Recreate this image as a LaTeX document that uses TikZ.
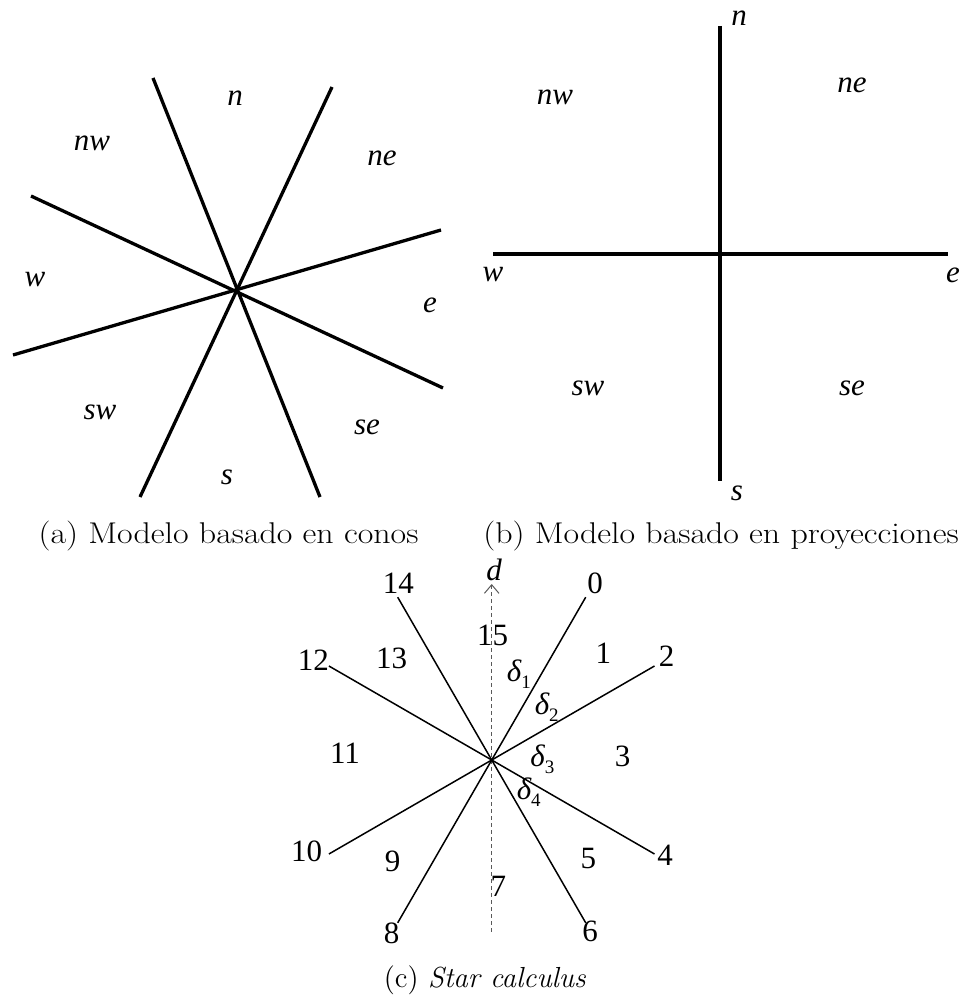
\documentclass[tikz,border=0pt]{standalone}
\usepackage{fontspec}
\newfontfamily\tms{Liberation Serif}
\usetikzlibrary{arrows.meta}
\tikzset{
  thickray/.style={line width=1.65pt},
  thinray/.style={line width=0.75pt},
  dirlab/.style={inner sep=0pt, font=\tms\itshape\fontsize{15.5}{18}\selectfont},
  numlab/.style={inner sep=0pt, font=\tms\fontsize{15.5}{18}\selectfont},
  caplab/.style={inner sep=0pt, anchor=base, font=\fontsize{15}{18}\selectfont},
  axisd/.style={line width=0.5pt, draw=black!65, dash pattern=on 2pt off 1.5pt,
     -{Straight Barb[length=4.3pt,width=7.3pt,line width=0.5pt]}}
}
\newcommand{\dlt}[1]{{\tms\itshape\fontsize{15.5}{18}\selectfont δ}\raisebox{-3.5pt}{\tms\fontsize{9.5}{10}\selectfont #1}}
\begin{document}
\begin{tikzpicture}[x=0.5pt,y=-0.5pt]
\useasboundingbox (0,0) rectangle (965,999);
% ---------- (a) cones ----------
\coordinate (a1s) at (153,78);  \coordinate (a1e) at (320,497);
\coordinate (a2s) at (332,87);  \coordinate (a2e) at (140,497);
\coordinate (a3s) at (31,196);  \coordinate (a3e) at (443,388);
\coordinate (a4s) at (441,230); \coordinate (a4e) at (13,355);
\draw[thickray] (a1s) -- (a1e);
\draw[thickray] (a2s) -- (a2e);
\draw[thickray] (a3s) -- (a3e);
\draw[thickray] (a4s) -- (a4e);
\node[dirlab] (an)  at (235,98)  {n};
\node[dirlab] (anw) at (92,143)  {nw};
\node[dirlab] (ane) at (382,158) {ne};
\node[dirlab] (aw)  at (35,280)  {w};
\node[dirlab] (ae)  at (430,305) {e};
\node[dirlab] (asw) at (100,412) {sw};
\node[dirlab] (ase) at (367,427) {se};
\node[dirlab] (as)  at (227,477) {s};
\node[caplab, xscale=1.13] (capa) at (228.5,543) {(a) Modelo basado en conos};
% ---------- (b) projections ----------
\coordinate (bn) at (720,26);  \coordinate (bs) at (720,481);
\coordinate (bw) at (493,254); \coordinate (be) at (948,254);
\draw[thickray] (bn) -- (bs);
\draw[thickray] (bw) -- (be);
\node[dirlab] (bln)  at (739,18)  {n};
\node[dirlab] (blnw) at (555,97)  {nw};
\node[dirlab] (blne) at (852,85)  {ne};
\node[dirlab] (blw)  at (493,275) {w};
\node[dirlab] (ble)  at (953,275) {e};
\node[dirlab] (blsw) at (588,388) {sw};
\node[dirlab] (blse) at (852,388) {se};
\node[dirlab] (bls)  at (737,493) {s};
\node[caplab, xscale=1.13] (capb) at (721,543) {(b) Modelo basado en proyecciones};
% ---------- (c) star calculus ----------
\coordinate (c0)  at (585.7,597.2);
\coordinate (c2)  at (654.5,666);
\coordinate (c4)  at (654.5,854);
\coordinate (c6)  at (585.7,922.8);
\coordinate (c8)  at (397.7,922.8);
\coordinate (c10) at (328.9,854);
\coordinate (c12) at (328.9,666);
\coordinate (c14) at (397.7,597.2);
\coordinate (dbot) at (491.7,931.7);
\coordinate (dtop) at (491.7,584);
\draw[axisd] (dbot) -- (dtop);
\draw[thinray] (c0) -- (c8);
\draw[thinray] (c2) -- (c10);
\draw[thinray] (c4) -- (c12);
\draw[thinray] (c6) -- (c14);
\node[dirlab] (ld) at (494,570) {d};
\node[numlab] (l0)  at (595,583)   {0};
\node[numlab] (l1)  at (603.3,653.3) {1};
\node[numlab] (l2)  at (666.7,656.7) {2};
\node[numlab] (l3)  at (622.7,756.7) {3};
\node[numlab] (l4)  at (665,855)   {4};
\node[numlab] (l5)  at (588.3,858.3) {5};
\node[numlab] (l6)  at (590,931.7) {6};
\node[numlab] (l7)  at (498.3,886.7) {7};
\node[numlab] (l8)  at (391.7,933) {8};
\node[numlab] (l9)  at (392.7,861.7) {9};
\node[numlab] (l10) at (306.7,851.7) {10};
\node[numlab] (l11) at (345,753.3) {11};
\node[numlab] (l12) at (313.3,660) {12};
\node[numlab] (l13) at (391.7,658.3) {13};
\node[numlab] (l14) at (398.3,583.3) {14};
\node[numlab] (l15) at (492.7,635) {15};
\node[inner sep=0pt] (dl1) at (518.8,674)   {\dlt{1}};
\node[inner sep=0pt] (dl2) at (546.7,706.7) {\dlt{2}};
\node[inner sep=0pt] (dl3) at (542.3,759)   {\dlt{3}};
\node[inner sep=0pt] (dl4) at (528.7,792.3) {\dlt{4}};
\node[caplab, font=\fontsize{14.5}{18}\selectfont] (capc) at (485,987) {(c) \textit{Star calculus}};
\end{tikzpicture}
\end{document}
